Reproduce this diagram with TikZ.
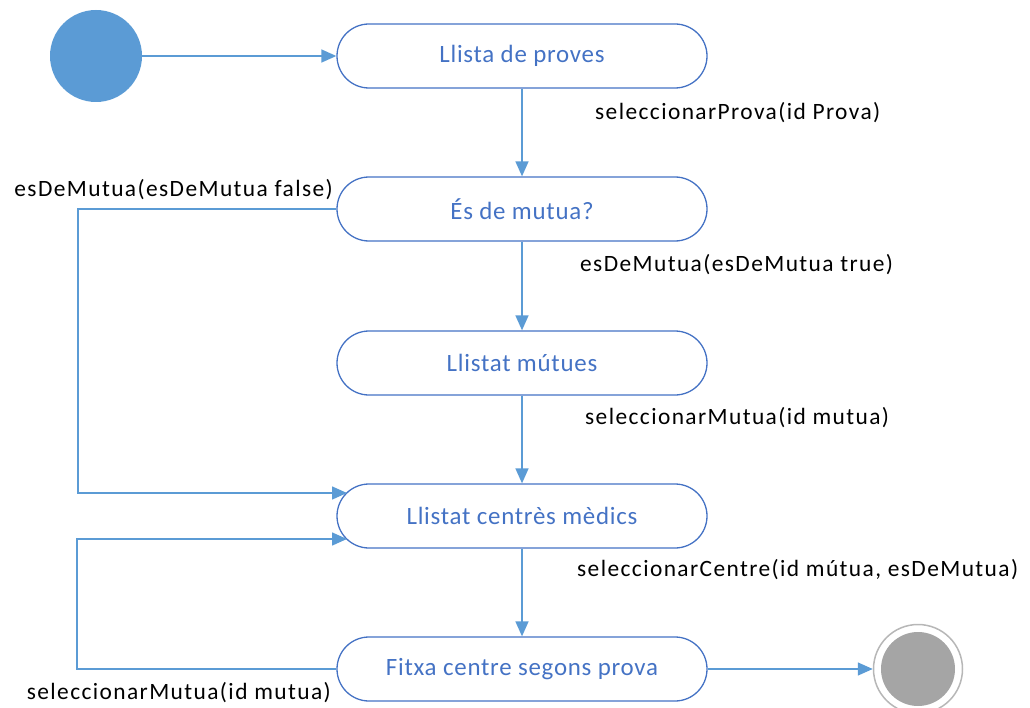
\documentclass[tikz,border=0pt]{standalone}
\usepackage{fontspec}
\setmainfont{Carlito}
\newfontfamily\statefont[LetterSpace=3]{Carlito}
\newfontfamily\lblfont[LetterSpace=6]{Carlito}
\usetikzlibrary{arrows.meta,positioning}
\definecolor{stateblue}{HTML}{4472C4}
\definecolor{flowblue}{HTML}{5B9BD5}
\definecolor{endgray}{HTML}{A5A5A5}
\begin{document}
\begin{tikzpicture}[x=1bp,y=-1bp,
  statebox/.style={draw=stateblue, line width=1.3bp, rounded corners=32bp,
    minimum width=370bp, minimum height=64bp, inner sep=0pt,
    text=stateblue, font=\statefont\fontsize{25}{30}\selectfont},
  flow/.style={draw=flowblue, line width=1.5bp,
    -{Triangle[length=15bp,width=13bp]}},
  lbl/.style={font=\lblfont\fontsize{23.5}{28}\selectfont, text=black, inner sep=0pt}]
\useasboundingbox (0,0) rectangle (1030,708);

% initial and final pseudo-states
\node[circle, fill=flowblue, minimum size=92bp, inner sep=0pt] (start) at (96,56) {};
\node[circle, draw=endgray!80, line width=1.5bp, minimum size=89bp, inner sep=0pt] (stop) at (918,669) {};
\node[circle, fill=endgray, minimum size=74bp, inner sep=0pt] at (stop.center) {};

% states
\node[statebox] (s1) at (522,56)  {Llista de proves};
\node[statebox] (s2) at (522,209) {És de mutua?};
\node[statebox] (s3) at (522,363) {Llistat mútues};
\node[statebox] (s4) at (522,516) {Llistat centrès mèdics};
\node[statebox] (s5) at (522,669) {Fitxa centre segons prova};

% transitions
\draw[flow] (start) -- (s1);
\draw[flow] (s1) -- (s2);
\draw[flow] (s2) -- (s3);
\draw[flow] (s3) -- (s4);
\draw[flow] (s4) -- (s5);
\draw[flow] (s5) -- (stop);

% branch when the test is not covered by a mutual
\coordinate (fa) at (78,209);
\coordinate (fb) at (78,493);
\coordinate (fin) at (347,493);
\draw[flow] (s2.west) -- (fa) -- (fb) -- (fin);

% back from the record to the list of centres
\coordinate (ra) at (77,669);
\coordinate (rb) at (77,539);
\coordinate (rin) at (347,539);
\draw[flow] (s5.west) -- (ra) -- (rb) -- (rin);

% transition labels
\node[lbl, anchor=west] (l1) at (595,113) {seleccionarProva(id Prova)};
\node[lbl, anchor=east] (l2) at (333,190) {esDeMutua(esDeMutua false)};
\node[lbl, anchor=west] (l3) at (580,265) {esDeMutua(esDeMutua true)};
\node[lbl, anchor=west] (l4) at (585,418) {seleccionarMutua(id mutua)};
\node[lbl, anchor=west] (l5) at (577,570) {seleccionarCentre(id mútua, esDeMutua)};
\node[lbl, anchor=east] (l6) at (331,693) {seleccionarMutua(id mutua)};
\end{tikzpicture}
\end{document}
